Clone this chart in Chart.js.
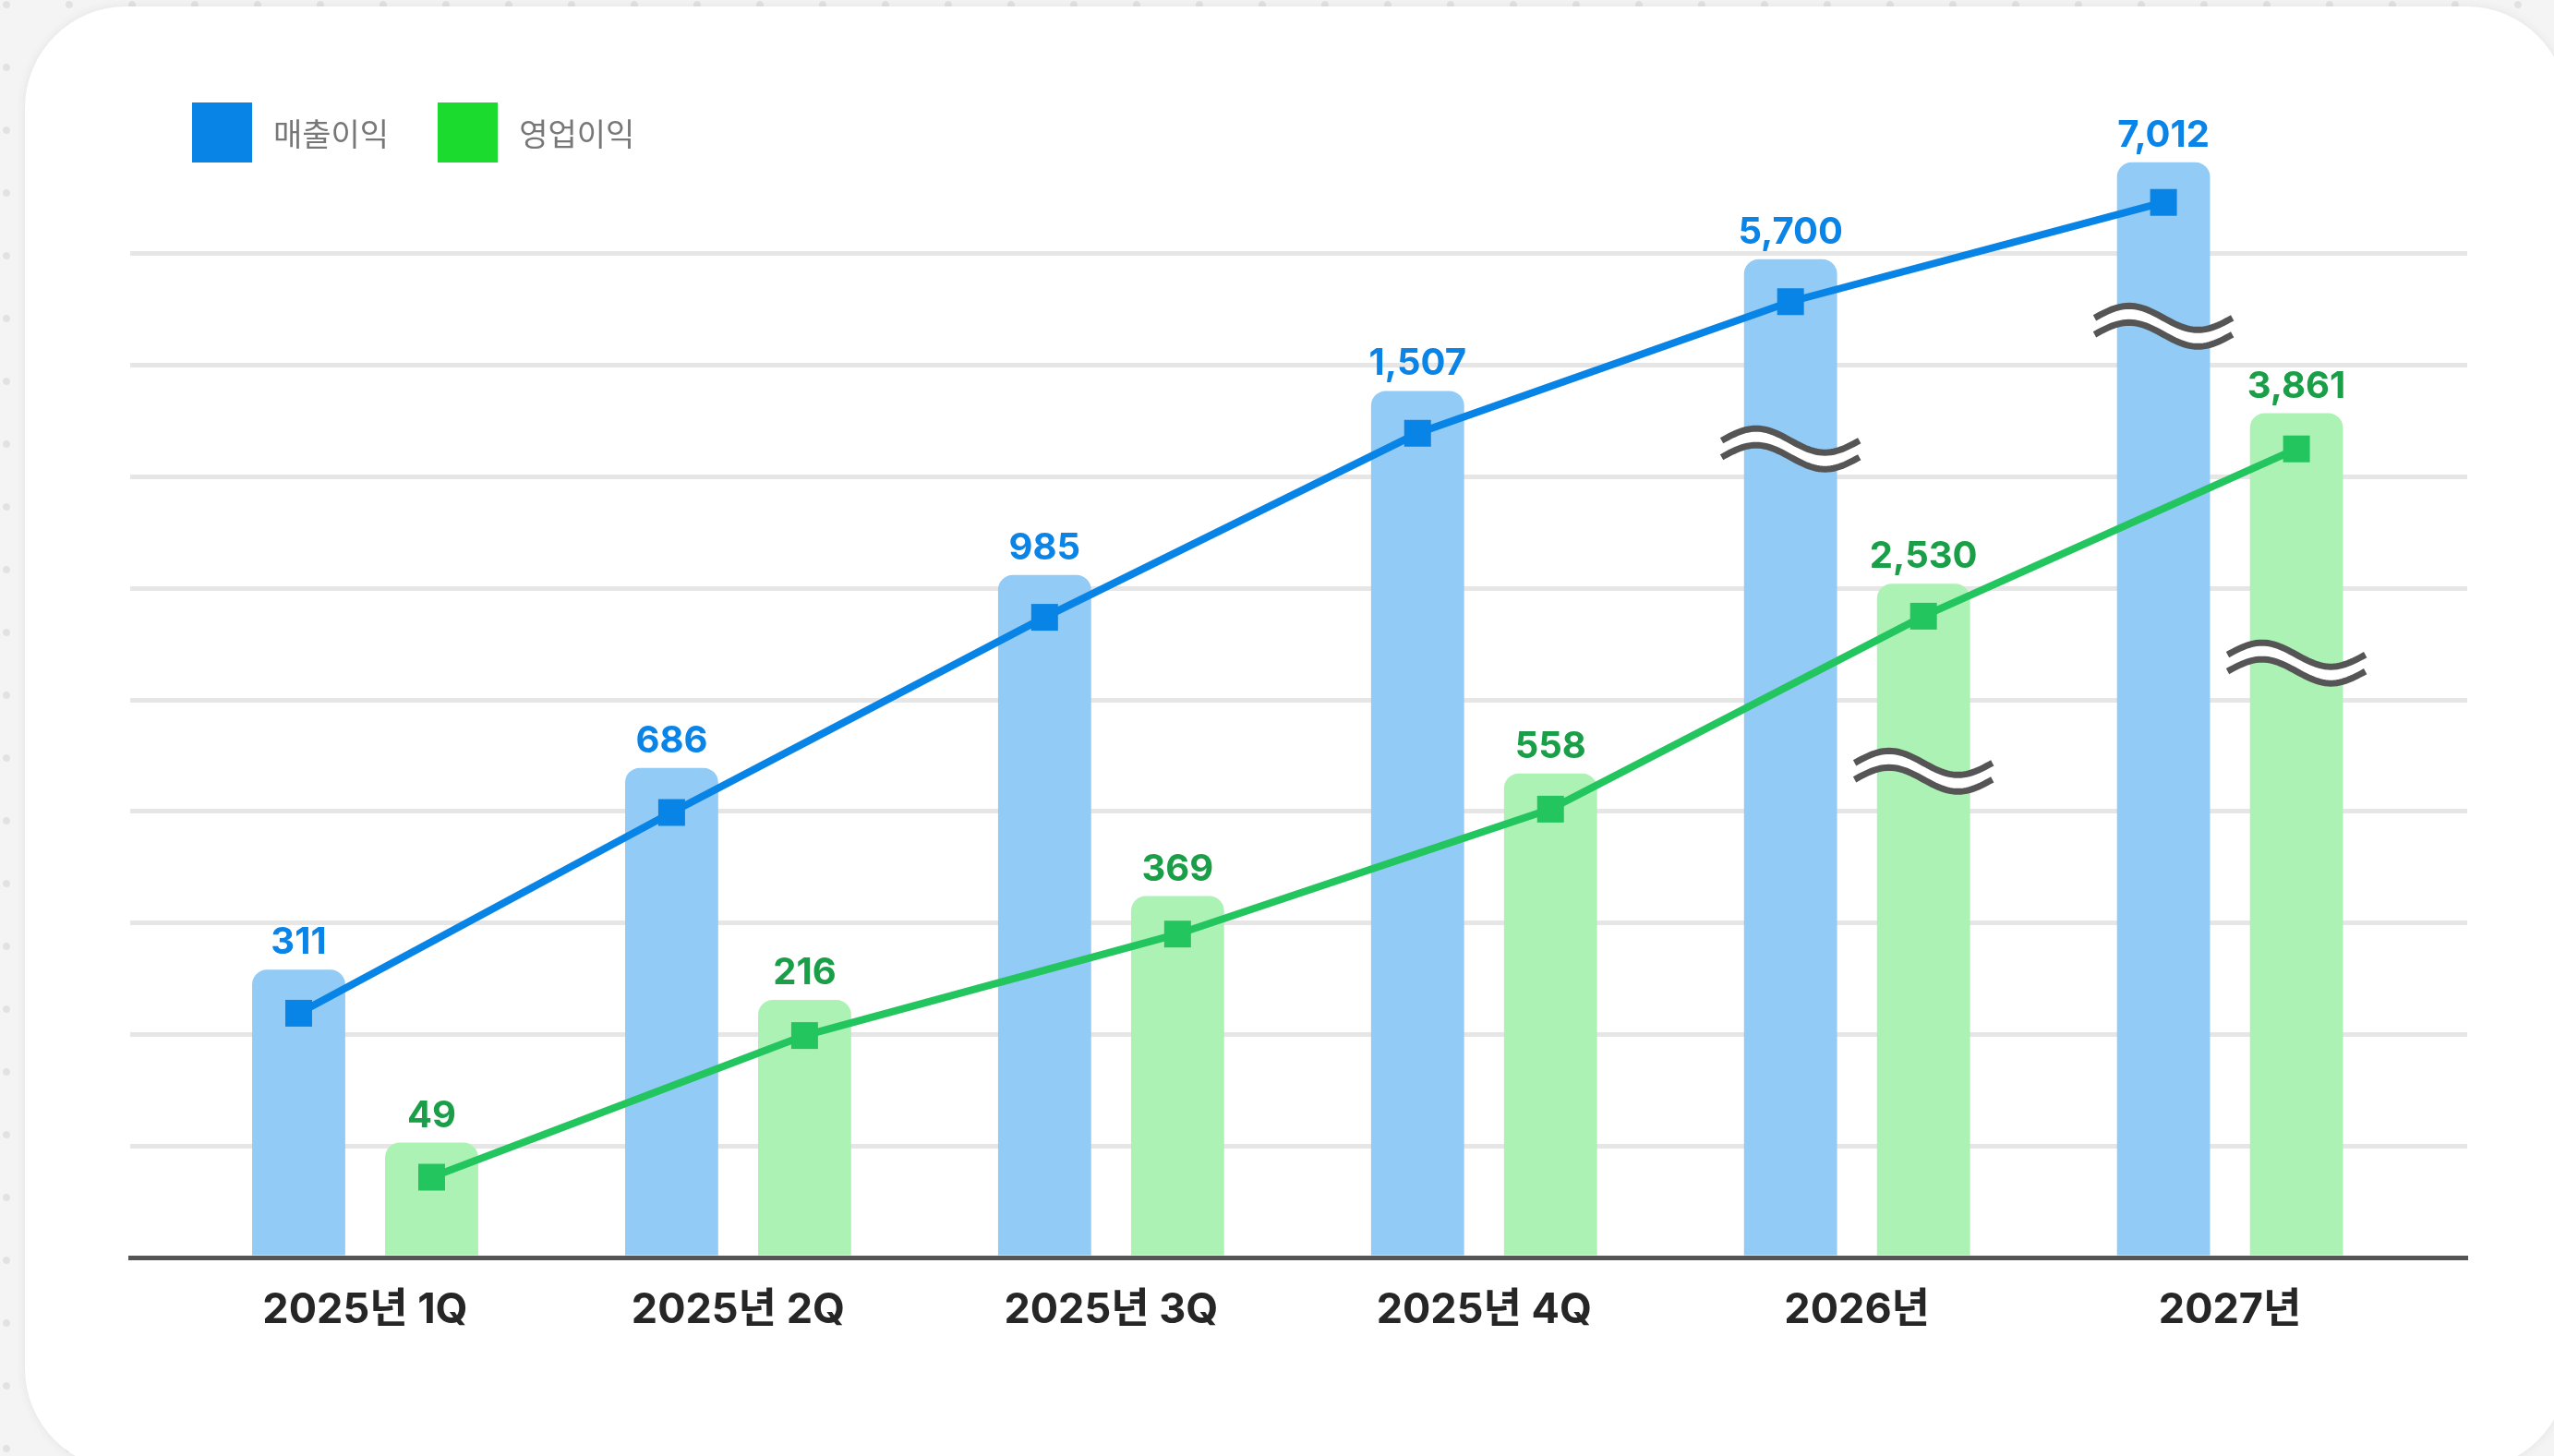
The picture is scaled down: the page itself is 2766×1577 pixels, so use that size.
<!DOCTYPE html>
<html>
<head>
<meta charset="utf-8">
<script src="https://cdn.jsdelivr.net/npm/chart.js@4.4.0/dist/chart.umd.min.js"></script>
<style>
  html, body {
    margin: 0;
    padding: 0;
    width: 2766px;
    height: 1577px;
    overflow: hidden;
    background-color: #f4f4f4;
    background-image: radial-gradient(circle, #e2e2e2 3.5px, transparent 4.5px);
    background-size: 68px 68px;
    background-position: -27px -29px;
  }
  .card {
    position: absolute;
    left: 27px;
    top: 7px;
    width: 2754px;
    height: 1585px;
    background: #fff;
    border-radius: 110px;
    box-shadow: 0 0 12px rgba(0, 0, 0, 0.07);
  }
  #chart {
    position: absolute;
    left: 0;
    top: 0;
  }
  .legend {
    position: absolute;
    left: 208px;
    top: 111px;
    height: 65px;
    display: flex;
    align-items: center;
    font-family: 'Noto Sans CJK KR', sans-serif;
    font-size: 34px;
    color: #777;
  }
  .legend .item { display: flex; align-items: center; margin-right: 53px; }
  .legend .box { width: 65px; height: 65px; margin-right: 23px; }
</style>
</head>
<body>
<div class="card"></div>
<canvas id="chart" width="2766" height="1577"></canvas>
<div class="legend" id="legend"></div>

<script>
const categories = ['2025년 1Q', '2025년 2Q', '2025년 3Q', '2025년 4Q', '2026년', '2027년'];
const seriesNames = ['매출이익', '영업이익'];

// 실제 값 (막대 위 숫자)
const revenueValues = [311, 686, 985, 1507, 5700, 7012];
const profitValues = [49, 216, 369, 558, 2530, 3861];

// 그림에서 읽은 높이 (눈금 칸 단위, 축이 물결로 끊겨 있음)
const revenueBars = [2.58, 4.39, 6.12, 7.77, 8.95, 9.82];
const profitBars = [1.03, 2.31, 3.24, 4.34, 6.04, 7.57];
const revenueLine = [2.19, 3.99, 5.74, 7.39, 8.57, 9.46];
const profitLine = [0.72, 1.99, 2.90, 4.02, 5.75, 7.25];

// 물결(축 생략) 표시 위치
const revenueBreaks = [null, null, null, null, 7.25, 8.35];
const profitBreaks = [null, null, null, null, 4.36, 5.33];

const gridMax = 10;

const blue = '#0784e6';
const blueBar = '#91cbf6';
const blueText = '#0a84e6';
const green = '#22c55e';
const greenBar = '#adf2b5';
const greenText = '#1a9f48';
const fontFamily = "Inter, 'Noto Sans CJK KR', sans-serif";

// legend
const legendEl = document.getElementById('legend');
[blue, '#1adb2e'].forEach(function(color, i) {
    const item = document.createElement('div');
    item.className = 'item';
    item.innerHTML = '<span class="box" style="background:' + color + '"></span><span>' + seriesNames[i] + '</span>';
    legendEl.appendChild(item);
});

function toPoints(arr) {
    return arr.map(function(v, i) { return { x: i, y: v }; });
}

// line points sit on the centre of their own bar
const alignLines = {
    id: 'alignLines',
    afterDatasetsUpdate(chart) {
        [[2, 0], [3, 1]].forEach(function(pair) {
            const linePts = chart.getDatasetMeta(pair[0]).data;
            const bars = chart.getDatasetMeta(pair[1]).data;
            linePts.forEach(function(p, i) { p.x = bars[i].x; });
        });
    }
};

function wave(ctx, cx, cy, w, amp, back) {
    const n = 48;
    for (let k = 0; k <= n; k++) {
        const t = back ? 1 - k / n : k / n;
        const x = cx - w / 2 + w * t;
        const y = cy - amp * Math.sin(2 * Math.PI * t);
        if (k === 0 && !back) ctx.moveTo(x, y); else ctx.lineTo(x, y);
    }
}

const breakMarks = {
    id: 'breakMarks',
    afterDatasetsDraw(chart) {
        const ctx = chart.ctx;
        const yScale = chart.scales.y;
        [[0, revenueBreaks], [1, profitBreaks]].forEach(function(pair) {
            const bars = chart.getDatasetMeta(pair[0]).data;
            pair[1].forEach(function(v, i) {
                if (v === null) return;
                const cx = bars[i].x;
                const cy = yScale.getPixelForValue(v);
                const w = bars[i].width * 1.48;
                const amp = 13, gap = 9;
                ctx.save();
                ctx.beginPath();
                wave(ctx, cx, cy - gap, w, amp, false);
                wave(ctx, cx, cy + gap, w, amp, true);
                ctx.closePath();
                ctx.fillStyle = '#fff';
                ctx.fill();
                ctx.strokeStyle = '#555';
                ctx.lineWidth = 7;
                ctx.lineCap = 'butt';
                ctx.beginPath();
                wave(ctx, cx, cy - gap, w, amp, false);
                ctx.stroke();
                ctx.beginPath();
                wave(ctx, cx, cy + gap, w, amp, false);
                ctx.stroke();
                ctx.restore();
            });
        });
    }
};

const valueLabels = {
    id: 'valueLabels',
    afterDatasetsDraw(chart) {
        const ctx = chart.ctx;
        [[0, revenueValues, blueText], [1, profitValues, greenText]].forEach(function(set) {
            const bars = chart.getDatasetMeta(set[0]).data;
            ctx.save();
            ctx.font = '700 40px ' + fontFamily;
            ctx.fillStyle = set[2];
            ctx.textAlign = 'center';
            ctx.textBaseline = 'alphabetic';
            bars.forEach(function(bar, i) {
                ctx.fillText(set[1][i].toLocaleString('en-US'), bar.x, bar.y - 17);
            });
            ctx.restore();
        });
    }
};

const barRadius = { topLeft: 16, topRight: 16, bottomLeft: 0, bottomRight: 0 };

new Chart(document.getElementById('chart'), {
    type: 'bar',
    data: {
        datasets: [
            {
                label: seriesNames[0],
                data: toPoints(revenueBars),
                backgroundColor: blueBar,
                borderRadius: barRadius,
                borderSkipped: false,
                categoryPercentage: 0.713,
                barPercentage: 0.70,
                order: 2
            },
            {
                label: seriesNames[1],
                data: toPoints(profitBars),
                backgroundColor: greenBar,
                borderRadius: barRadius,
                borderSkipped: false,
                categoryPercentage: 0.713,
                barPercentage: 0.70,
                order: 2
            },
            {
                type: 'line',
                label: seriesNames[0],
                data: toPoints(revenueLine),
                borderColor: blue,
                borderWidth: 8,
                pointStyle: 'rect',
                pointRadius: 20.5,
                pointBorderWidth: 0,
                pointBackgroundColor: blue,
                tension: 0,
                order: 1
            },
            {
                type: 'line',
                label: seriesNames[1],
                data: toPoints(profitLine),
                borderColor: green,
                borderWidth: 8,
                pointStyle: 'rect',
                pointRadius: 20.5,
                pointBorderWidth: 0,
                pointBackgroundColor: green,
                tension: 0,
                order: 1
            }
        ]
    },
    options: {
        responsive: false,
        devicePixelRatio: 1,
        animation: false,
        events: [],
        layout: {
            padding: { left: 141, right: 94, top: 154, bottom: 0 }
        },
        plugins: {
            legend: { display: false },
            tooltip: { enabled: false }
        },
        scales: {
            x: {
                type: 'linear',
                min: -0.63,
                max: 5.636,
                offset: false,
                afterFit: function(scale) { scale.height = 215; },
                grid: { display: false, drawTicks: false, offset: false },
                border: { display: true, color: '#555', width: 5, z: 1 },
                ticks: {
                    stepSize: 1,
                    includeBounds: false,
                    autoSkip: false,
                    maxRotation: 0,
                    padding: 30,
                    color: '#262626',
                    font: { family: fontFamily, size: 45, weight: '700' },
                    callback: function(v) {
                        return Number.isInteger(v) ? categories[v] : '';
                    }
                }
            },
            y: {
                min: 0,
                max: gridMax,
                afterFit: function(scale) { scale.width = 0; },
                border: { display: false },
                grid: {
                    drawTicks: false,
                    lineWidth: 5,
                    color: function(c) {
                        return (c.tick.value === 0 || c.tick.value === gridMax) ? 'rgba(0,0,0,0)' : '#e6e6e6';
                    }
                },
                ticks: { display: false, stepSize: 1 }
            }
        }
    },
    plugins: [alignLines, breakMarks, valueLabels]
});
</script>
</body>
</html>
